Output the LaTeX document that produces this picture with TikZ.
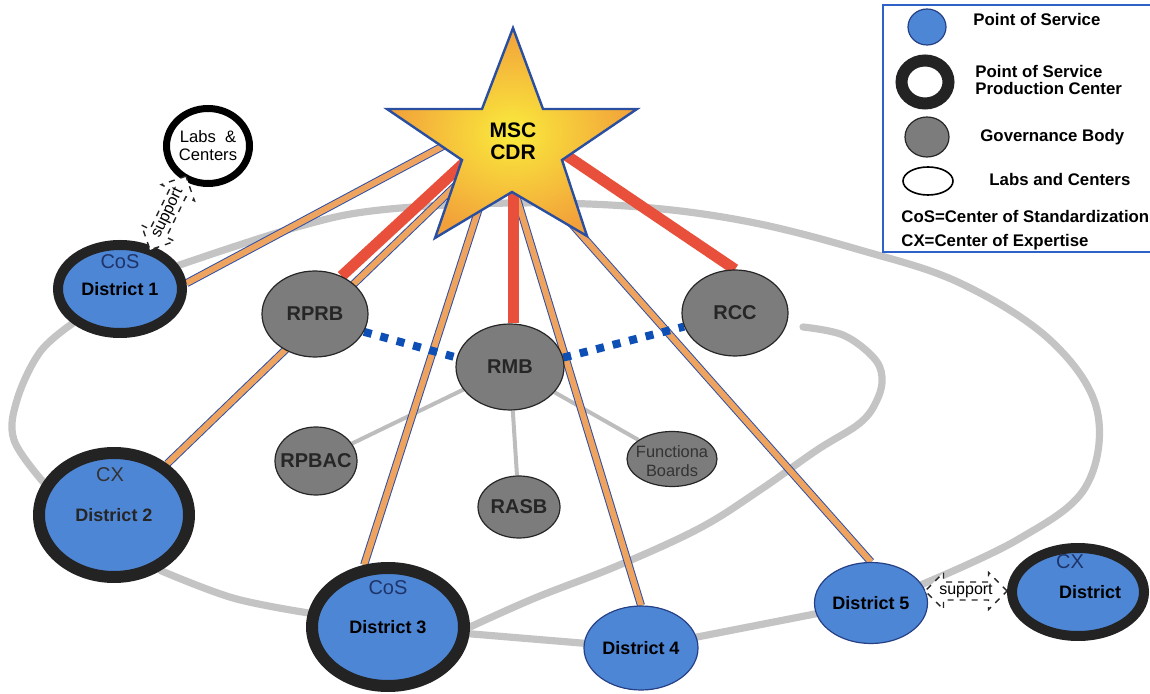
\documentclass[tikz,border=0pt]{standalone}
\usepackage{fontspec}
\setmainfont{Liberation Sans}
\usetikzlibrary{shapes.geometric,shapes.arrows,backgrounds}
\definecolor{posblue}{HTML}{4E86D6}
\definecolor{ringblack}{HTML}{232323}
\definecolor{govgray}{HTML}{7C7C7C}
\definecolor{loopgray}{HTML}{C4C4C4}
\definecolor{linkgray}{HTML}{BDBDBD}
\definecolor{redlink}{HTML}{E8503C}
\definecolor{orangelink}{HTML}{EEA45E}
\definecolor{bluelink}{HTML}{3050A8}
\definecolor{dotblue}{HTML}{0D4FB5}
\definecolor{navytext}{HTML}{1E3468}
\definecolor{legendblue}{HTML}{2F62C8}
\definecolor{staryellow}{HTML}{FAEB3C}
\definecolor{starorange}{HTML}{F2A03A}
\definecolor{starblue}{HTML}{2A4FA0}
\begin{document}
\begin{tikzpicture}[x=0.5pt,y=-0.5pt,
  posnode/.style={ellipse, fill=posblue, draw=bluelink!80!black, line width=0.6pt, inner sep=0pt,
    font=\bfseries\fontsize{9}{10}\selectfont, text=black},
  posring/.style={posnode, draw=ringblack, line width=#1},
  gov/.style={ellipse, fill=govgray, draw=black!85, line width=0.6pt, inner sep=0pt},
  govtext/.style={inner sep=0pt, font=\bfseries\fontsize{10}{11}\selectfont, text=black!85},
  dtext/.style={inner sep=0pt, font=\bfseries\fontsize{9}{10}\selectfont, text=black},
  tagtext/.style={inner sep=0pt, font=\fontsize{10}{11}\selectfont, text=navytext},
  labsnode/.style={ellipse, fill=white, draw=black, line width=3.5pt, inner sep=0pt, align=center,
    font=\fontsize{8.3}{9}\selectfont},
  loopline/.style={draw=loopgray, line width=3.6pt, line cap=round},
  govlink/.style={draw=linkgray, line width=2pt},
  orangeline/.style={draw=bluelink, double=orangelink, double distance=3pt, line width=0.5pt},
  redline/.style={draw=redlink, line width=5.5pt},
  dotline/.style={draw=dotblue, line width=4pt, dash pattern=on 4pt off 4.5pt},
  supportarrow/.style={double arrow, draw=black!85, dashed, line width=0.7pt, fill=white,
    minimum height=41pt, minimum width=18.5pt, double arrow head extend=4.5pt, inner sep=0.5pt,
    font=\fontsize{8}{9}\selectfont},
  starshape/.style={draw=starblue, line width=1.2pt, inner color=staryellow, outer color=starorange, line join=miter},
  startext/.style={inner sep=0pt, align=center, font=\bfseries\fontsize{10.5}{11}\selectfont},
  legtext/.style={inner sep=0pt, anchor=west, align=left, font=\bfseries\fontsize{8.4}{8.8}\selectfont},
  legendbox/.style={draw=legendblue, line width=0.8pt}
]
\useasboundingbox (0,0) rectangle (1150,694);

% ---------- districts ----------
\node[posring=5pt, minimum width=62pt, minimum height=44pt] (D1) at (120,289) {District 1};
\node[tagtext] (D1t) at (120,262) {CoS};
\node[posring=6pt, minimum width=75pt, minimum height=62pt, text=black!85] (D2) at (114,515) {District 2};
\node[tagtext, text=black!80] (D2t) at (110,475) {CX};
\node[posring=6pt, minimum width=76pt, minimum height=59pt] (D3) at (388,627) {District 3};
\node[tagtext] (D3t) at (388,588) {CoS};
\node[posnode, minimum width=57pt, minimum height=42pt] (D4) at (641,648) {District 4};
\node[posnode, minimum width=56.5pt, minimum height=40.5pt] (D5) at (871,603) {District 5};
\node[posring=5pt, minimum width=66pt, minimum height=44pt] (D6) at (1078,592) {};
\node[dtext] (D6l) at (1090,592) {District};
\node[tagtext] (D6t) at (1070,562) {CX};

\node[labsnode, minimum width=41.5pt, minimum height=37.5pt] (labs) at (208,146) {Labs\ \ \&\\Centers};

% ---------- governance bodies ----------
\node[gov, minimum width=53pt, minimum height=43pt] (RPRB) at (315,314) {};
\node[govtext] (RPRBt) at (315,314) {RPRB};
\node[gov, minimum width=54pt, minimum height=43pt] (RMB) at (510,367) {};
\node[govtext] (RMBt) at (510,367) {RMB};
\node[gov, minimum width=41pt, minimum height=34pt] (RPBAC) at (316,461) {};
\node[govtext] (RPBACt) at (316,461) {RPBAC};
\node[gov, minimum width=41pt, minimum height=31pt] (RASB) at (519,507) {};
\node[govtext] (RASBt) at (519,507) {RASB};
\node[gov, minimum width=45pt, minimum height=27.5pt] (FB) at (672,459) {};
\node[inner sep=0pt, align=center, font=\fontsize{8.2}{9.5}\selectfont, text=black!80] (FBt) at (672,461) {Functiona\\Boards};
\node[gov, minimum width=53pt, minimum height=43pt] (RCC) at (735,313) {};
\node[govtext] (RCCt) at (735,313) {RCC};

% ---------- star anchor points ----------
\coordinate (hub) at (500,143);
\coordinate (s1) at (460,137);
\coordinate (r1) at (478,150);
\coordinate (r2) at (513,150);
\coordinate (r3) at (548,143);
\coordinate (spiralEnd) at (803,327);

% ---------- connectors ----------
\begin{scope}[on background layer]
  \draw[loopline] plot[smooth, tension=0.6] coordinates {(D1.22) (297,227) (380,210) (513,203) (640,207) (750,222) (860,250) (960,283) (1050,340) (1097,410) (1085,488) (1017,540) (D5.20)};
  \draw[loopline] (D5.center) -- (D4.center) -- (D3.center);
  \draw[loopline] plot[smooth, tension=0.6] coordinates {(D3.170) (233,598) (D2.-50)};
  \draw[loopline] plot[smooth, tension=0.6] coordinates {(D2.155) (14,440) (17,400) (40,352) (D1.216)};
  \draw[loopline] plot[smooth, tension=0.6] coordinates {(D3.east) (535,598) (617,566) (700,528) (760,490) (817,450) (860,423) (877,400) (882,377) (873,357) (843,335) (spiralEnd)};

  \draw[govlink] (RMB) -- (RPBAC);
  \draw[govlink] (RMB) -- (RASB);
  \draw[govlink] (RMB) -- (FB);

  \draw[orangeline] (s1) -- (D1.5);
  \draw[orangeline] (hub) -- (D2);
  \draw[orangeline] (hub) -- (D3.111);
  \draw[orangeline] (hub) -- (D4.north);
  \draw[orangeline] (hub) -- (D5.north);

  \draw[redline] (r1) -- (RPRB.55);
  \draw[redline] (r2) -- (r2 |- RMB.north);
  \draw[redline] (r3) -- (RCC.north);

  \draw[dotline] (RPRB.-20) -- (RMB.170);
  \draw[dotline] (RMB.10) -- (RCC.195);
\end{scope}

% ---------- star ----------
\path[starshape] (513,28) -- (543,109) -- (637,109) -- (562,160) -- (587,236) -- (512,192)
  -- (435,238) -- (462,160) -- (387,109) -- (482,109) -- cycle;
\node[startext] (msc) at (513,141) {MSC\\CDR};

% ---------- support arrows ----------
\node[supportarrow, rotate=64] (sup1) at (168,213) {support};
\node[supportarrow] (sup2) at (966,591) {support};

% ---------- legend ----------
\draw[legendbox] (883,5) rectangle (1160,252);
\node[posnode, minimum width=19pt, minimum height=18pt] (L1) at (927,27) {};
\node[legtext] (L1t) at (973,20) {Point of Service};
\node[ellipse, fill=white, draw=ringblack, line width=6pt, minimum width=23.5pt, minimum height=21.5pt, inner sep=0pt] (L2) at (925,82) {};
\node[legtext] (L2t) at (975,80) {Point of Service\\Production Center};
\node[gov, minimum width=22pt, minimum height=20pt] (L3) at (927,137) {};
\node[legtext] (L3t) at (980,137) {Governance Body};
\node[ellipse, fill=white, draw=black, line width=0.8pt, minimum width=25pt, minimum height=14pt, inner sep=0pt] (L4) at (928,181) {};
\node[legtext] (L4t) at (989,180) {Labs and Centers};
\node[legtext] (L5t) at (901,217) {CoS=Center of Standardization};
\node[legtext] (L6t) at (901,242) {CX=Center of Expertise};
\end{tikzpicture}
\end{document}
